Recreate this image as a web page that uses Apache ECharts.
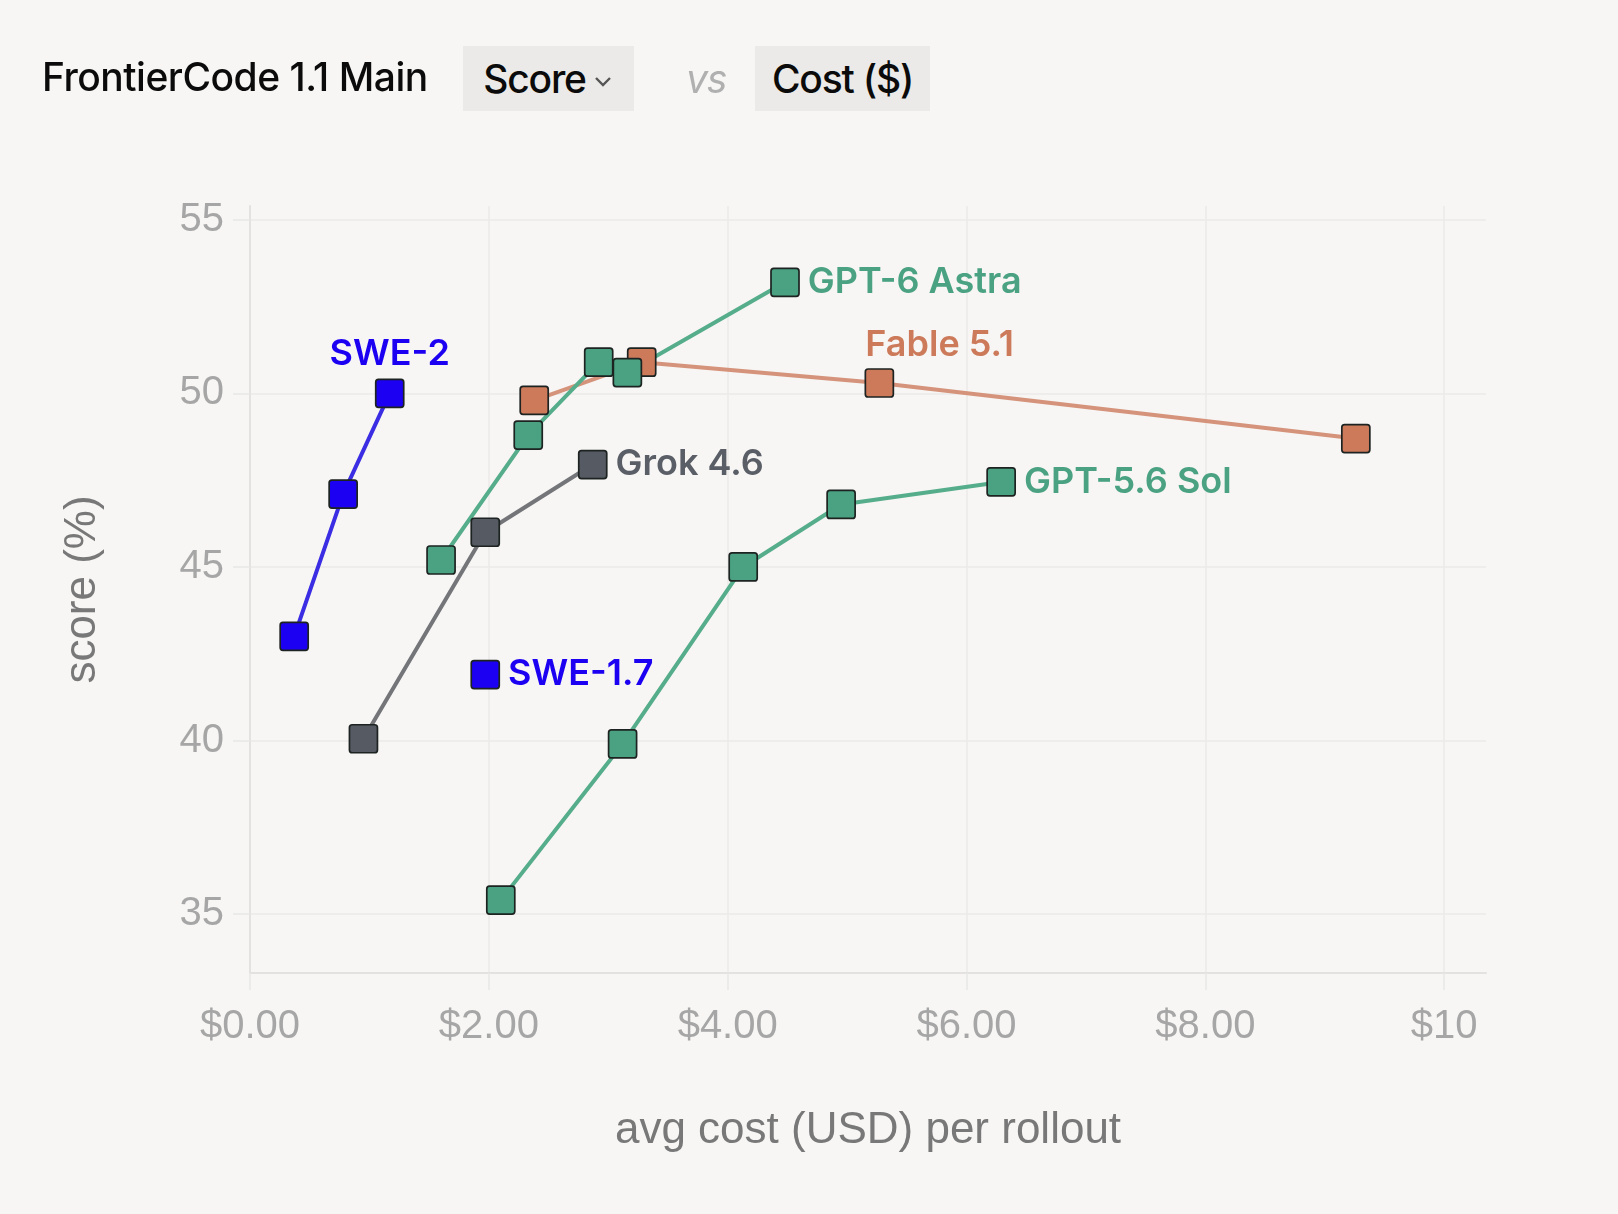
<!DOCTYPE html>
<html>
<head>
<meta charset="utf-8">
<script src="https://cdn.jsdelivr.net/npm/echarts@6/dist/echarts.min.js"></script>
<style>
  html, body { margin: 0; padding: 0; background: #f7f6f4; }
  #chart { position: absolute; left: 0; top: 0; width: 1618px; height: 1214px; }
  .head { position: absolute; top: 46px; height: 65px; display: flex; align-items: center;
          font-family: Inter, "Liberation Sans", sans-serif; font-size: 39px; font-weight: 500; color: #0b0b0b; letter-spacing: -1.2px; }
  .box { background: #ebeae8; justify-content: center; }
  .vs { color: #b0b0b0; font-style: italic; font-weight: 400; }
</style>
</head>
<body>
<div id="chart"></div>
<div class="head" style="left:42px;top:44px;letter-spacing:-0.5px;">FrontierCode 1.1 Main</div>
<div class="head box" style="left:463px;width:171px;">Score<svg width="22" height="14" viewBox="0 0 22 14" style="margin-left:6px;margin-top:6px"><path d="M4 3 L11 10 L18 3" fill="none" stroke="#555" stroke-width="2.4"/></svg></div>
<div class="head vs" style="left:686px;">vs</div>
<div class="head box" style="left:755px;width:175px;">Cost ($)</div>
<script>
// values
const swe2Cost = [0.37, 0.78, 1.17];
const swe2Score = [43.0, 47.1, 50.0];
const swe17Cost = [1.97];
const swe17Score = [41.9];
const grokCost = [0.95, 1.97, 2.87];
const grokScore = [40.05, 46.0, 47.95];
const astraCost = [1.60, 2.33, 2.92, 3.16, 4.48];
const astraScore = [45.2, 48.8, 50.9, 50.6, 53.2];
const fableCost = [2.38, 3.28, 5.27, 9.26];
const fableScore = [49.8, 50.9, 50.3, 48.7];
const solCost = [2.10, 3.12, 4.13, 4.95, 6.29];
const solScore = [35.4, 39.9, 45.0, 46.8, 47.45];

const xTicks = [0, 2, 4, 6, 8, 10];
const yTicks = [35, 40, 45, 50, 55];

const labelFont = 'Inter, "Liberation Sans", sans-serif';

function pts(xs, ys, labelIdx, label) {
  return xs.map((x, i) => {
    const d = { value: [x, ys[i]] };
    if (i === labelIdx) d.label = Object.assign({ show: true }, label);
    return d;
  });
}

function series(name, xs, ys, marker, line, labelIdx, label) {
  return {
    name: name,
    type: 'line',
    data: pts(xs, ys, labelIdx, Object.assign({
      formatter: name, color: marker === '#555a63' ? '#5a5e66' : marker,
      fontFamily: labelFont, fontWeight: 600, fontSize: 36, letterSpacing: -0.6
    }, label)),
    symbol: 'path://M2,0 H18 A2,2 0 0 1 20,2 V18 A2,2 0 0 1 18,20 H2 A2,2 0 0 1 0,18 V2 A2,2 0 0 1 2,0 Z',
    symbolSize: 28,
    lineStyle: { color: line, width: 4 },
    itemStyle: { color: marker, borderColor: '#1d2321', borderWidth: 1.7 },
    label: { show: false },
    emphasis: { disabled: true },
    animation: false,
    z: 3
  };
}

const chart = echarts.init(document.getElementById('chart'));
chart.setOption({
  backgroundColor: '#f7f6f4',
  grid: { left: 250, top: 206, width: 1236, height: 767 },
  xAxis: {
    type: 'value', min: 0, max: 10.35,
    name: 'avg cost (USD) per rollout', nameLocation: 'middle', nameGap: 136,
    nameTextStyle: { fontFamily: '"Liberation Sans", sans-serif', fontSize: 44, color: '#787878' },
    axisLine: { show: true, onZero: false, lineStyle: { color: '#e3e2e0', width: 2 } },
    axisTick: { show: true, length: 17, customValues: xTicks, lineStyle: { color: '#e8e7e5', width: 1.5 } },
    splitLine: { show: true, lineStyle: { color: '#ebeae8', width: 1.5 } },
    axisLabel: {
      customValues: xTicks, margin: 34, fontFamily: '"Liberation Sans", sans-serif', fontSize: 40, color: '#a6a6a6',
      formatter: v => v === 10 ? '$10' : '$' + v.toFixed(2)
    }
  },
  yAxis: {
    type: 'value', min: 33.3, max: 55.4,
    name: 'score (%)', nameLocation: 'middle', nameGap: 145, nameRotate: 90,
    nameTextStyle: { fontFamily: '"Liberation Sans", sans-serif', fontSize: 44, color: '#787878' },
    axisLine: { show: true, onZero: false, lineStyle: { color: '#e3e2e0', width: 2 } },
    axisTick: { show: true, length: 17, customValues: yTicks, lineStyle: { color: '#e8e7e5', width: 1.5 } },
    splitLine: { show: true, lineStyle: { color: '#ebeae8', width: 1.5 } },
    axisLabel: {
      customValues: yTicks, margin: 26, fontFamily: '"Liberation Sans", sans-serif', fontSize: 40, color: '#a6a6a6'
    }
  },
  series: [
    series('Fable 5.1', fableCost, fableScore, '#cc7a5a', '#d5937b', 2,
      { position: 'top', align: 'left', distance: 5, offset: [-14, 0] }),
    series('Grok 4.6', grokCost, grokScore, '#555a63', '#737579', 2,
      { position: 'right', distance: 8 }),
    series('GPT-5.6 Sol', solCost, solScore, '#4aa283', '#56ad8c', 4,
      { position: 'right', distance: 8 }),
    series('GPT-6 Astra', astraCost, astraScore, '#4aa283', '#56ad8c', 4,
      { position: 'right', distance: 8 }),
    series('SWE-2', swe2Cost, swe2Score, '#1c00f2', '#3b2de3', 2,
      { position: 'top', distance: 6 }),
    series('SWE-1.7', swe17Cost, swe17Score, '#1c00f2', '#3b2de3', 0,
      { position: 'right', distance: 8 })
  ]
});
</script>
</body>
</html>
